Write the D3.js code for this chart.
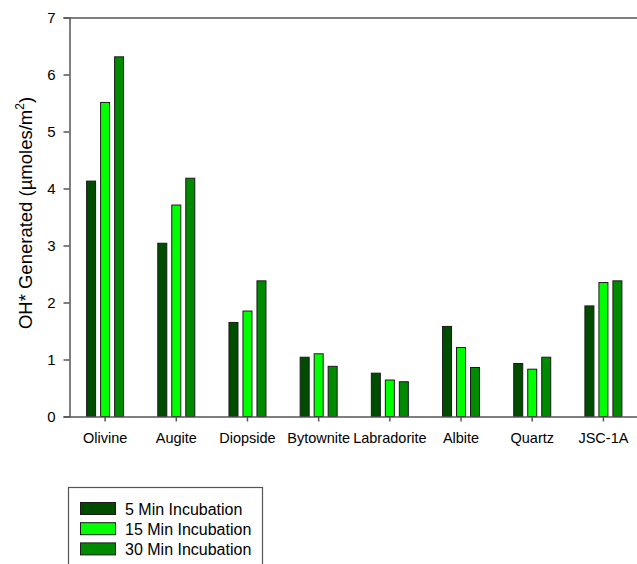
<!DOCTYPE html>
<html><head><meta charset="utf-8">
<script src="https://cdn.jsdelivr.net/npm/d3@7"></script>
<style>body{margin:0;background:#fff}svg{display:block}text{font-family:"Liberation Sans",Arial,sans-serif;fill:#000}</style>
</head><body>
<svg id="c" width="637" height="564"></svg>
<script>
const categories = ["Olivine","Augite","Diopside","Bytownite","Labradorite","Albite","Quartz","JSC-1A"];
const seriesNames = ["5 Min Incubation","15 Min Incubation","30 Min Incubation"];
const min5  = [4.13, 3.04, 1.65, 1.04, 0.76, 1.58, 0.93, 1.94];
const min15 = [5.51, 3.71, 1.85, 1.10, 0.64, 1.21, 0.83, 2.35];
const min30 = [6.31, 4.18, 2.38, 0.88, 0.61, 0.86, 1.04, 2.38];
const yTicks = [0,1,2,3,4,5,6,7];
const colors = ["#004c00","#00ff00","#008a00"];
const seriesValues = [min5, min15, min30];

const svg = d3.select("#c");
const x = d3.scaleBand().domain(categories).range([69.5, 639]);
const xi = d3.scaleBand().domain(seriesNames).range([-18.5, 18.5]).paddingInner(5/14).paddingOuter(0);
const y = d3.scaleLinear().domain([0,7]).range([416.5, 17.5]);

// bars
seriesNames.forEach((s, si) => {
  svg.append("g").selectAll("rect").data(categories).join("rect")
    .attr("x", c => x(c) + x.bandwidth()/2 + xi(s))
    .attr("width", xi.bandwidth())
    .attr("y", (c, i) => y(seriesValues[si][i]))
    .attr("height", (c, i) => y(0) - y(seriesValues[si][i]))
    .attr("fill", colors[si])
    .attr("stroke", "#1a1a1a").attr("stroke-width", 1);
});

// y axis
const ya = svg.append("g").attr("transform", "translate(69.5,0)")
  .call(d3.axisLeft(y).tickValues(yTicks).tickFormat(d3.format("d")).tickSize(6).tickPadding(8));
ya.select(".domain").attr("stroke", "#555").attr("stroke-width", 1.5);
ya.selectAll(".tick line").attr("stroke", "#555").attr("stroke-width", 1.5);
ya.selectAll(".tick text").style("font-size", "15px").attr("font-family", null);

// x axis
const xa = svg.append("g").attr("transform", "translate(0,416.5)")
  .call(d3.axisBottom(x).tickSize(5).tickSizeOuter(0).tickPadding(11));
xa.select(".domain").attr("stroke", "#555").attr("stroke-width", 1.5);
xa.selectAll(".tick line").attr("stroke", "#555").attr("stroke-width", 1.5);
xa.selectAll(".tick text").style("font-size", "14.5px").attr("font-family", null);

// top axis line
const xt = svg.append("g").attr("transform", "translate(0,17.5)")
  .call(d3.axisTop(x).tickSize(0).tickSizeOuter(0).tickFormat(""));
xt.select(".domain").attr("stroke", "#555").attr("stroke-width", 1.5);

// y title
const yt = svg.append("text").attr("transform", "translate(32,213) rotate(-90)")
  .attr("text-anchor", "middle").style("font-size", "18.5px");
yt.append("tspan").text("OH* Generated (\u00b5moles/m");
yt.append("tspan").text("2").style("font-size", "12px").attr("dy", -8);
yt.append("tspan").text(")").attr("dy", 8);

// legend
const lg = svg.append("g");
lg.append("rect").attr("x", 68.5).attr("y", 487.5).attr("width", 194).attr("height", 90)
  .attr("fill", "#fff").attr("stroke", "#555").attr("stroke-width", 1.2);
const items = lg.selectAll("g.it").data(seriesNames).join("g").attr("class","it")
  .attr("transform", (d,i) => `translate(80.5,${502.5 + i*20.2})`);
items.append("rect").attr("width", 35).attr("height", 12)
  .attr("fill", (d,i) => colors[i]).attr("stroke", "#1a1a1a").attr("stroke-width", 1);
items.append("text").attr("x", 44.5).attr("y", 12).style("font-size", "16px").text(d => d);
</script>
</body></html>
